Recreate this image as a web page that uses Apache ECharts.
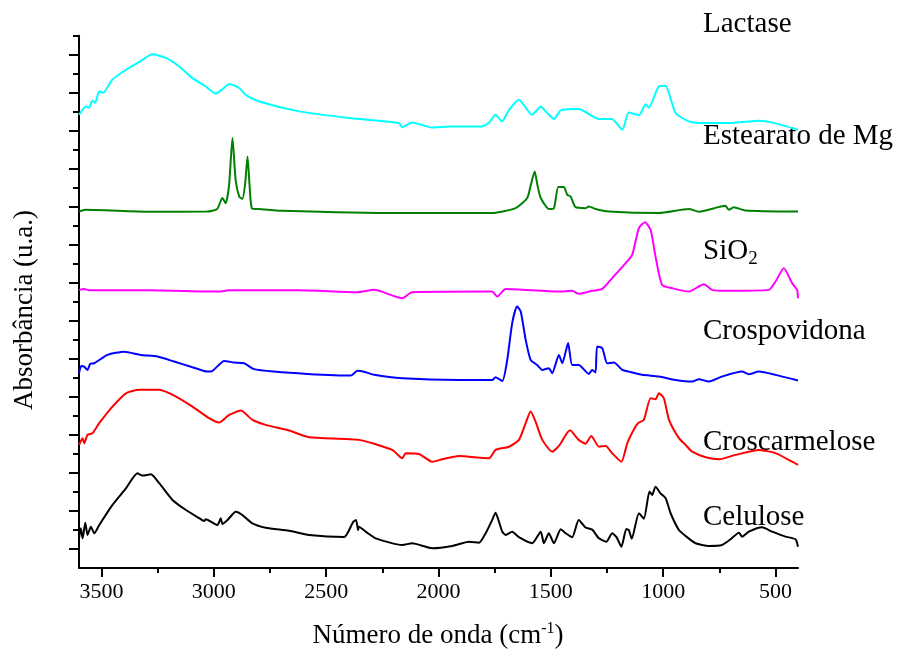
<!DOCTYPE html>
<html>
<head>
<meta charset="utf-8">
<script src="https://cdn.jsdelivr.net/npm/echarts@6/dist/echarts.min.js"></script>
<style>
html,body{margin:0;padding:0;background:#fff;}
#chart{width:901px;height:654px;}
</style>
</head>
<body>
<div id="chart"></div>
<script>
// x: wavenumber (cm-1), y: absorbance (arbitrary units, stacked offsets)
const xMajorTicks = [500, 1000, 1500, 2000, 2500, 3000, 3500];
const xMinorTicks = [750, 1250, 1750, 2250, 2750, 3250];
const yMajorTicks = [1, 3, 5, 7, 9, 11, 13, 15, 17, 19, 21, 23, 25, 27];
const yMinorTicks = [2, 4, 6, 8, 10, 12, 14, 16, 18, 20, 22, 24, 26, 28];

const seriesNames = ['Lactase', 'Estearato de Mg', 'SiO2', 'Crospovidona', 'Croscarmelose', 'Celulose'];
const seriesColors = ['#00ffff', '#008000', '#ff00ff', '#0000ff', '#ff0000', '#000000'];

const lactase = [
  [3600,23.84],[3569,24.28],[3555,24.21],[3541,24.58],[3528,24.47],[3510,25.07],[3492,25.0],
  [3452,25.68],[3391,26.21],[3332,26.62],[3273,27.02],[3213,26.83],[3154,26.38],[3095,25.77],
  [3036,25.33],[2991,24.95],[2959,25.21],[2932,25.46],[2887,25.25],[2858,24.89],[2798,24.54],
  [2620,24.02],[2398,23.67],[2176,23.41],[2162,23.19],[2118,23.44],[2029,23.17],[1953,23.23],
  [1807,23.23],[1775,23.42],[1746,23.84],[1718,23.49],[1686,24.1],[1642,24.63],[1584,23.84],
  [1560,24.1],[1545,24.28],[1523,24.02],[1486,23.62],[1456,24.07],[1376,24.14],[1286,23.62],
  [1228,23.62],[1182,23.05],[1153,23.96],[1108,23.82],[1078,24.39],[1064,24.21],[1019,25.34],
  [990,25.37],[945,23.93],[886,23.49],[841,23.41],[695,23.41],[575,23.53],[517,23.44],[400,23.05]
];

const estearatoMg = [
  [3600,18.75],[3572,18.84],[3288,18.74],[3030,18.75],[2985,18.89],[2962,19.46],[2947,19.19],
  [2932,20.16],[2917,22.62],[2903,20.42],[2887,19.54],[2873,19.41],[2861,20.16],[2850,21.65],
  [2841,20.16],[2830,18.91],[2798,18.88],[2696,18.79],[2176,18.67],[1762,18.67],[1657,18.93],
  [1605,19.46],[1589,20.16],[1572,20.86],[1560,20.16],[1545,19.46],[1508,18.88],[1486,18.93],
  [1467,20.04],[1442,20.04],[1427,19.63],[1412,19.54],[1390,18.98],[1345,18.93],[1331,19.02],
  [1301,18.88],[1242,18.75],[1019,18.67],[886,18.88],[841,18.74],[723,19.05],[708,18.84],
  [686,18.98],[634,18.81],[400,18.75]
];

const sio2 = [
  [3600,14.63],[3577,14.68],[3555,14.61],[3288,14.61],[2976,14.54],[2932,14.61],[2620,14.61],
  [2361,14.51],[2287,14.63],[2161,14.19],[2118,14.51],[1762,14.54],[1738,14.28],[1701,14.67],
  [1464,14.54],[1405,14.58],[1376,14.42],[1316,14.58],[1271,14.68],[1227,15.25],[1167,16.04],
  [1138,16.47],[1108,17.88],[1081,18.19],[1056,17.79],[1034,16.38],[1005,14.89],[960,14.72],
  [886,14.54],[819,14.93],[782,14.63],[723,14.58],[530,14.63],[500,15.07],[463,15.77],
  [426,14.98],[404,14.63],[400,14.19]
];

const crospovidona = [
  [3600,10.25],[3590,10.63],[3577,10.59],[3562,10.42],[3550,10.74],[3532,10.77],[3473,11.21],
  [3399,11.38],[3325,11.21],[3251,11.12],[3177,10.86],[3102,10.59],[3028,10.33],[3013,10.33],
  [2954,10.89],[2910,10.81],[2865,10.77],[2821,10.46],[2732,10.33],[2584,10.21],[2391,10.12],
  [2361,10.37],[2324,10.3],[2287,10.16],[2161,9.98],[1909,9.89],[1761,9.89],[1746,10.04],
  [1716,9.84],[1694,10.95],[1672,12.88],[1650,13.75],[1634,13.49],[1612,12.0],[1590,10.95],
  [1561,10.68],[1538,10.42],[1509,10.51],[1494,10.25],[1464,11.21],[1449,10.77],[1434,11.38],
  [1423,11.83],[1405,10.68],[1376,10.68],[1331,10.21],[1316,10.42],[1301,10.29],[1294,11.65],
  [1271,11.56],[1249,10.77],[1219,10.81],[1182,10.42],[1153,10.33],[1094,10.16],[1019,10.07],
  [945,9.89],[871,9.81],[841,9.93],[797,9.81],[738,10.07],[649,10.33],[619,10.19],[575,10.33],
  [500,10.16],[400,9.86]
];

const croscarmelose = [
  [3600,6.47],[3584,6.83],[3577,6.56],[3562,7.0],[3540,7.09],[3510,7.62],[3451,8.49],
  [3391,9.19],[3332,9.37],[3243,9.37],[3169,9.02],[3095,8.49],[3021,7.88],[2976,7.65],
  [2932,8.05],[2880,8.28],[2828,7.79],[2769,7.53],[2665,7.23],[2576,6.88],[2354,6.74],
  [2206,6.21],[2161,5.77],[2146,6.04],[2087,6.0],[2028,5.59],[1983,5.72],[1909,5.89],
  [1775,5.77],[1746,6.21],[1686,6.38],[1642,6.74],[1612,7.62],[1590,8.23],[1568,7.7],
  [1538,6.74],[1494,6.12],[1464,6.42],[1415,7.24],[1376,6.74],[1346,6.54],[1320,6.95],
  [1286,6.38],[1256,6.42],[1227,6.04],[1186,5.59],[1160,6.56],[1123,7.44],[1108,7.65],
  [1086,7.79],[1056,8.93],[1034,8.88],[1019,9.19],[997,8.93],[974,7.79],[930,6.83],
  [900,6.47],[871,6.12],[811,5.83],[752,5.72],[678,5.95],[575,6.21],[500,6.04],[426,5.59],
  [400,5.42]
];

const celulose = [
  [3600,1.56],[3592,2.09],[3584,1.56],[3572,2.38],[3562,1.74],[3547,2.17],[3532,1.83],
  [3510,2.26],[3451,3.32],[3391,4.19],[3340,4.98],[3318,4.86],[3280,4.93],[3243,4.46],
  [3184,3.58],[3124,3.05],[3065,2.62],[3043,2.47],[3036,2.56],[2984,2.26],[2969,2.62],
  [2962,2.32],[2939,2.53],[2902,2.96],[2873,2.79],[2828,2.35],[2769,2.12],[2665,1.96],
  [2576,1.74],[2420,1.63],[2380,2.42],[2367,2.53],[2358,2.0],[2354,2.17],[2324,1.91],
  [2279,1.56],[2161,1.21],[2117,1.3],[2028,1.04],[1939,1.16],[1864,1.38],[1820,1.33],
  [1790,1.83],[1761,2.53],[1746,2.91],[1731,2.44],[1716,1.91],[1701,1.74],[1672,1.91],
  [1642,1.62],[1583,1.3],[1545,1.91],[1531,1.3],[1509,1.83],[1486,1.3],[1456,2.04],
  [1434,1.83],[1405,1.62],[1376,2.53],[1346,2.13],[1316,2.02],[1286,1.56],[1253,1.38],
  [1227,1.83],[1207,1.61],[1186,1.12],[1164,2.05],[1153,2.0],[1140,1.54],[1108,2.88],
  [1086,2.59],[1061,4.02],[1049,3.84],[1034,4.28],[1012,3.93],[989,3.67],[967,2.88],
  [930,2.0],[900,1.68],[856,1.3],[797,1.16],[738,1.21],[700,1.51],[663,1.86],[649,1.65],
  [619,1.91],[560,2.14],[515,1.91],[456,1.65],[411,1.51],[400,1.12]
];

const seriesData = [lactase, estearatoMg, sio2, crospovidona, croscarmelose, celulose];

const serif = '"Liberation Serif", "Times New Roman", serif';
const chart = echarts.init(document.getElementById('chart'), null, {renderer: 'canvas'});

const baseX = {
  type: 'value', inverse: true, min: 400, max: 3600,
  splitLine: {show: false}
};
const baseY = {
  type: 'value', min: 0, max: 28, position: 'left',
  splitLine: {show: false}, axisLabel: {show: false}
};

chart.setOption({
  animation: false,
  backgroundColor: '#ffffff',
  grid: {left: 79, right: 103, top: 35.7, bottom: 86, containLabel: false},
  xAxis: [
    Object.assign({}, baseX, {
      axisLine: {show: true, lineStyle: {color: '#000', width: 2}},
      axisTick: {show: true, customValues: xMajorTicks, length: 9, lineStyle: {color: '#000', width: 2}},
      axisLabel: {show: true, customValues: xMajorTicks, margin: 13, color: '#000',
                  fontFamily: serif, fontSize: 22, formatter: v => String(v)}
    }),
    Object.assign({}, baseX, {
      position: 'bottom',
      axisLine: {show: false},
      axisTick: {show: true, customValues: xMinorTicks, length: 5, lineStyle: {color: '#000', width: 2}},
      axisLabel: {show: false}
    })
  ],
  yAxis: [
    Object.assign({}, baseY, {
      axisLine: {show: true, lineStyle: {color: '#000', width: 2}},
      axisTick: {show: true, customValues: yMajorTicks, length: 10, lineStyle: {color: '#000', width: 2}}
    }),
    Object.assign({}, baseY, {
      axisLine: {show: false},
      axisTick: {show: true, customValues: yMinorTicks, length: 6, lineStyle: {color: '#000', width: 2}}
    })
  ],
  series: seriesData.map((d, i) => ({
    name: seriesNames[i],
    type: 'line',
    data: d,
    xAxisIndex: 0,
    yAxisIndex: 0,
    showSymbol: false,
    symbol: 'none',
    smooth: 0.2,
    lineStyle: {color: seriesColors[i], width: 2},
    z: 3
  })),
  graphic: [
    {type: 'text', x: 438, y: 636, style: {
      text: 'Número de onda (cm{sup|-1})', fill: '#000', align: 'center', verticalAlign: 'middle',
      fontFamily: serif, fontSize: 27,
      rich: {sup: {fontFamily: serif, fontSize: 16, padding: [0, 0, 14, 0]}}
    }},
    {type: 'text', x: 25, y: 310, rotation: Math.PI / 2, style: {
      text: 'Absorbância (u.a.)', fill: '#000', align: 'center', verticalAlign: 'middle',
      fontFamily: serif, fontSize: 27
    }},
    {type: 'text', x: 703, y: 24, style: {text: 'Lactase', fill: '#000', verticalAlign: 'middle', fontFamily: serif, fontSize: 29}},
    {type: 'text', x: 703, y: 136, style: {text: 'Estearato de Mg', fill: '#000', verticalAlign: 'middle', fontFamily: serif, fontSize: 29}},
    {type: 'text', x: 703, y: 251, style: {
      text: 'SiO{sub|2}', fill: '#000', verticalAlign: 'middle', fontFamily: serif, fontSize: 29,
      rich: {sub: {fontFamily: serif, fontSize: 19, padding: [16, 0, 0, 0]}}
    }},
    {type: 'text', x: 703, y: 331, style: {text: 'Crospovidona', fill: '#000', verticalAlign: 'middle', fontFamily: serif, fontSize: 29}},
    {type: 'text', x: 703, y: 442, style: {text: 'Croscarmelose', fill: '#000', verticalAlign: 'middle', fontFamily: serif, fontSize: 29}},
    {type: 'text', x: 703, y: 517, style: {text: 'Celulose', fill: '#000', verticalAlign: 'middle', fontFamily: serif, fontSize: 29}}
  ]
});
</script>
</body>
</html>
